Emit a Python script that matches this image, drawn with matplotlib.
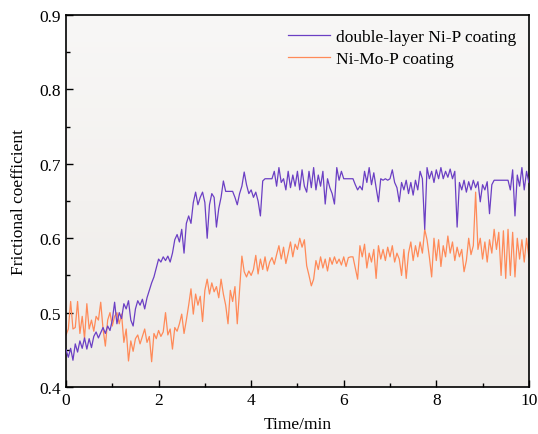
import numpy as np
import matplotlib
matplotlib.use("Agg")
import matplotlib.pyplot as plt
from matplotlib.ticker import MultipleLocator

plt.rcParams['font.family'] = ['Liberation Serif', 'DejaVu Serif']

# sampling times (min), one reading every 0.05 min
time_min = np.linspace(0, 10, 201)

# double-layer Ni-P coating
nip = [
    0.45, 0.44, 0.452, 0.436, 0.458, 0.447, 0.462, 0.452, 0.466, 0.451, 0.465, 0.453, 0.468, 0.474, 0.466, 0.473, 0.48, 0.472, 0.482, 0.476,
    0.49, 0.514, 0.485, 0.50, 0.492, 0.512, 0.505, 0.516, 0.49, 0.482, 0.505, 0.516, 0.51, 0.518, 0.505, 0.52, 0.53, 0.54, 0.548, 0.56,
    0.572, 0.568, 0.575, 0.57, 0.576, 0.568, 0.58, 0.598, 0.605, 0.595, 0.612, 0.58, 0.62, 0.63, 0.62, 0.648, 0.662, 0.645, 0.655, 0.662,
    0.648, 0.60, 0.645, 0.66, 0.655, 0.615, 0.64, 0.655, 0.677, 0.663, 0.663, 0.663, 0.663, 0.655, 0.645, 0.66, 0.67, 0.689, 0.672, 0.66,
    0.665, 0.655, 0.662, 0.65, 0.63, 0.677, 0.68, 0.68, 0.68, 0.68, 0.69, 0.67, 0.695, 0.675, 0.68, 0.665, 0.69, 0.668, 0.685, 0.67,
    0.69, 0.665, 0.692, 0.67, 0.662, 0.69, 0.668, 0.695, 0.665, 0.685, 0.67, 0.69, 0.646, 0.68, 0.668, 0.66, 0.646, 0.695, 0.678, 0.69,
    0.68, 0.68, 0.68, 0.68, 0.68, 0.672, 0.665, 0.67, 0.665, 0.69, 0.675, 0.695, 0.672, 0.688, 0.668, 0.649, 0.68, 0.678, 0.68, 0.678,
    0.68, 0.692, 0.675, 0.668, 0.649, 0.675, 0.665, 0.678, 0.66, 0.675, 0.658, 0.678, 0.665, 0.69, 0.68, 0.612, 0.695, 0.68, 0.69, 0.675,
    0.692, 0.68, 0.695, 0.68, 0.69, 0.682, 0.693, 0.68, 0.69, 0.615, 0.675, 0.665, 0.678, 0.662, 0.676, 0.665, 0.678, 0.668, 0.676, 0.649,
    0.672, 0.665, 0.676, 0.633, 0.672, 0.678, 0.678, 0.678, 0.678, 0.678, 0.678, 0.678, 0.665, 0.692, 0.63, 0.685, 0.67, 0.695, 0.665, 0.69,
    0.675,
]

# Ni-Mo-P coating
nimop = [
    0.47, 0.478, 0.515, 0.478, 0.48, 0.515, 0.472, 0.495, 0.465, 0.512, 0.478, 0.49, 0.475, 0.495, 0.49, 0.514, 0.478, 0.455, 0.49, 0.50,
    0.482, 0.495, 0.50, 0.485, 0.498, 0.46, 0.478, 0.435, 0.462, 0.448, 0.465, 0.47, 0.458, 0.468, 0.478, 0.46, 0.468, 0.434, 0.472, 0.465,
    0.476, 0.468, 0.474, 0.50, 0.47, 0.478, 0.451, 0.48, 0.475, 0.485, 0.498, 0.472, 0.49, 0.51, 0.532, 0.498, 0.525, 0.51, 0.522, 0.488,
    0.53, 0.545, 0.525, 0.54, 0.528, 0.535, 0.52, 0.545, 0.525, 0.51, 0.485, 0.53, 0.515, 0.535, 0.485, 0.53, 0.576, 0.555, 0.548, 0.556,
    0.55, 0.558, 0.577, 0.552, 0.572, 0.558, 0.575, 0.556, 0.568, 0.574, 0.565, 0.578, 0.59, 0.572, 0.588, 0.566, 0.58, 0.595, 0.575, 0.592,
    0.585, 0.6, 0.588, 0.598, 0.563, 0.55, 0.536, 0.545, 0.57, 0.558, 0.575, 0.56, 0.572, 0.556, 0.574, 0.565, 0.575, 0.566, 0.572, 0.564,
    0.575, 0.562, 0.574, 0.575, 0.575, 0.56, 0.545, 0.59, 0.575, 0.592, 0.56, 0.58, 0.568, 0.585, 0.546, 0.59, 0.572, 0.585, 0.57, 0.588,
    0.575, 0.59, 0.568, 0.58, 0.572, 0.55, 0.585, 0.546, 0.58, 0.595, 0.57, 0.59, 0.575, 0.595, 0.58, 0.612, 0.598, 0.575, 0.548, 0.6,
    0.57, 0.598, 0.562, 0.59, 0.575, 0.603, 0.58, 0.595, 0.57, 0.588, 0.575, 0.585, 0.555, 0.57, 0.6, 0.578, 0.59, 0.662, 0.585, 0.6,
    0.572, 0.595, 0.568, 0.598, 0.58, 0.612, 0.585, 0.608, 0.55, 0.61, 0.546, 0.612, 0.55, 0.608, 0.548, 0.6, 0.572, 0.598, 0.568, 0.6,
    0.575,
]

fig = plt.figure(figsize=(5.38, 4.35), dpi=100)
ax = fig.add_axes([0.1227, 0.108, 0.8603, 0.855])

# soft beige gradient behind the curves
grad = np.linspace(0, 1, 256).reshape(-1, 1)
bg = matplotlib.colors.LinearSegmentedColormap.from_list('bg', ['#EEEBE8', '#F8F7F6'])
ax.imshow(grad, cmap=bg, origin='lower', aspect='auto',
          extent=[0, 10, 0.4, 0.9], zorder=0)

ax.plot(time_min, nip, color='#6B3FC4', lw=0.9, label='double-layer Ni-P coating', zorder=3)
ax.plot(time_min, nimop, color='#FF8A58', lw=0.9, label='Ni-Mo-P coating', zorder=2)

ax.set_xlim(0, 10)
ax.set_ylim(0.4, 0.9)
ax.xaxis.set_major_locator(MultipleLocator(2))
ax.xaxis.set_minor_locator(MultipleLocator(1))
ax.yaxis.set_major_locator(MultipleLocator(0.1))
ax.yaxis.set_minor_locator(MultipleLocator(0.05))
ax.tick_params(which='both', direction='in', width=1.0, labelsize=12.5)
ax.tick_params(which='major', length=5)
ax.tick_params(which='minor', length=3)
ax.set_yticklabels(['%.1f' % v for v in ax.get_yticks()])
for s in ax.spines.values():
    s.set_linewidth(1.2)

ax.set_xlabel('Time/min', fontsize=12.5, labelpad=6)
ax.set_ylabel('Frictional coefficient', fontsize=12.5, labelpad=9)

ax.legend(loc='upper right', frameon=False, fontsize=12.5, handlelength=2.4,
          handletextpad=0.4, borderaxespad=0.3, labelspacing=0.35,
          bbox_to_anchor=(1.0, 0.995))

fig.savefig('out.png', dpi=100)
